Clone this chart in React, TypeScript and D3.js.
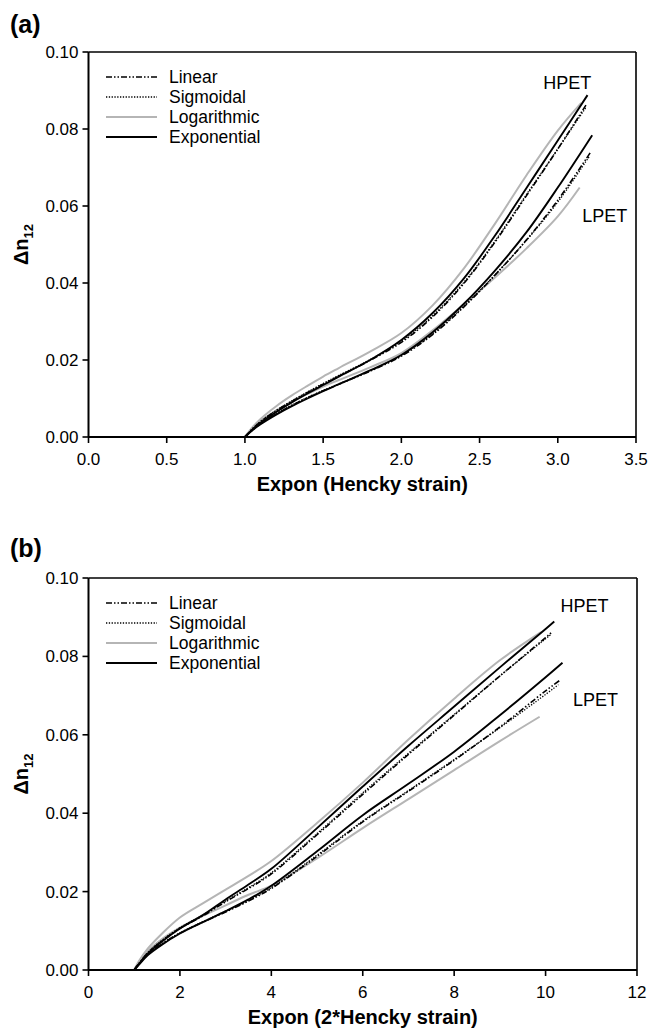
import React from "react";
import * as d3 from "d3";

// ---------- data ----------
// Panel (a): x = Expon(Hencky strain)
const hpetExpAx = [1, 1.05, 1.1, 1.2, 1.3, 1.4, 1.5, 1.6, 1.8, 2.0, 2.2, 2.4, 2.6, 2.8, 3.0, 3.19];
const hpetExpAy = [0, 0.0020, 0.0037, 0.0065, 0.0090, 0.0113, 0.0135, 0.0157, 0.0200, 0.0252, 0.0322, 0.0412, 0.0524, 0.0647, 0.0770, 0.0888];
const hpetLinAx = [1, 1.05, 1.1, 1.2, 1.3, 1.4, 1.5, 1.6, 1.8, 2.0, 2.2, 2.4, 2.6, 2.8, 3.0, 3.18];
const hpetLinAy = [0, 0.0022, 0.0040, 0.0068, 0.0093, 0.0116, 0.0137, 0.0158, 0.0199, 0.0246, 0.0312, 0.0399, 0.0507, 0.0627, 0.0748, 0.0862];
const hpetSigAx = [1, 1.05, 1.1, 1.2, 1.3, 1.4, 1.5, 1.6, 1.8, 2.0, 2.2, 2.4, 2.6, 2.8, 3.0, 3.18];
const hpetSigAy = [0, 0.0022, 0.0041, 0.0069, 0.0094, 0.0117, 0.0139, 0.0160, 0.0201, 0.0249, 0.0315, 0.0402, 0.0510, 0.0630, 0.0748, 0.0856];
const hpetLogAx = [1, 1.05, 1.1, 1.2, 1.3, 1.4, 1.5, 1.6, 1.8, 2.0, 2.2, 2.4, 2.6, 2.8, 3.0, 3.15];
const hpetLogAy = [0, 0.0026, 0.0047, 0.0080, 0.0108, 0.0133, 0.0157, 0.0179, 0.0222, 0.0270, 0.0342, 0.0438, 0.0555, 0.0680, 0.0796, 0.0868];

const lpetExpAx = [1, 1.05, 1.1, 1.2, 1.3, 1.4, 1.5, 1.6, 1.8, 2.0, 2.2, 2.4, 2.6, 2.8, 3.0, 3.22];
const lpetExpAy = [0, 0.0018, 0.0033, 0.0058, 0.0080, 0.0100, 0.0119, 0.0137, 0.0173, 0.0213, 0.0272, 0.0346, 0.0433, 0.0532, 0.0648, 0.0784];
const lpetLinAx = [1, 1.05, 1.1, 1.2, 1.3, 1.4, 1.5, 1.6, 1.8, 2.0, 2.2, 2.4, 2.6, 2.8, 3.0, 3.21];
const lpetLinAy = [0, 0.0019, 0.0035, 0.0060, 0.0082, 0.0102, 0.0120, 0.0137, 0.0171, 0.0210, 0.0266, 0.0338, 0.0421, 0.0512, 0.0615, 0.0740];
const lpetSigAx = [1, 1.05, 1.1, 1.2, 1.3, 1.4, 1.5, 1.6, 1.8, 2.0, 2.2, 2.4, 2.6, 2.8, 3.0, 3.2];
const lpetSigAy = [0, 0.0019, 0.0036, 0.0061, 0.0083, 0.0103, 0.0121, 0.0138, 0.0172, 0.0212, 0.0268, 0.0340, 0.0422, 0.0511, 0.0610, 0.0728];
const lpetLogAx = [1, 1.05, 1.1, 1.2, 1.3, 1.4, 1.5, 1.6, 1.8, 2.0, 2.2, 2.4, 2.6, 2.8, 3.0, 3.14];
const lpetLogAy = [0, 0.0023, 0.0041, 0.0069, 0.0092, 0.0112, 0.0131, 0.0148, 0.0181, 0.0218, 0.0277, 0.0345, 0.0415, 0.0490, 0.0573, 0.0648];

// Panel (b): x = Expon(2*Hencky strain)
const hpetExpBx = [1, 1.1, 1.3, 1.6, 2, 2.5, 3, 3.5, 4, 5, 6, 7, 8, 9, 10, 10.19];
const hpetExpBy = [0, 0.0015, 0.0042, 0.0072, 0.0106, 0.0140, 0.0180, 0.0218, 0.0258, 0.0362, 0.0468, 0.0572, 0.0672, 0.0772, 0.0870, 0.0889];
const hpetLinBx = [1, 1.1, 1.3, 1.6, 2, 2.5, 3, 3.5, 4, 5, 6, 7, 8, 9, 10, 10.14];
const hpetLinBy = [0, 0.0016, 0.0044, 0.0074, 0.0106, 0.0138, 0.0174, 0.0208, 0.0245, 0.0345, 0.0448, 0.0550, 0.0650, 0.0750, 0.0848, 0.0862];
const hpetSigBx = [1, 1.1, 1.3, 1.6, 2, 2.5, 3, 3.5, 4, 5, 6, 7, 8, 9, 10, 10.12];
const hpetSigBy = [0, 0.0016, 0.0045, 0.0075, 0.0108, 0.0140, 0.0176, 0.0210, 0.0248, 0.0348, 0.0452, 0.0553, 0.0652, 0.0750, 0.0845, 0.0856];
const hpetLogBx = [1, 1.1, 1.3, 1.6, 2, 2.5, 3, 3.5, 4, 5, 6, 7, 8, 9, 9.9];
const hpetLogBy = [0, 0.0022, 0.0055, 0.0092, 0.0134, 0.0170, 0.0205, 0.0240, 0.0278, 0.0375, 0.0478, 0.0588, 0.0692, 0.0790, 0.0862];

const lpetExpBx = [1, 1.1, 1.3, 1.6, 2, 2.5, 3, 3.5, 4, 5, 6, 7, 8, 9, 10, 10.37];
const lpetExpBy = [0, 0.0013, 0.0038, 0.0064, 0.0093, 0.0122, 0.0150, 0.0180, 0.0215, 0.0303, 0.0395, 0.0475, 0.0557, 0.0650, 0.0747, 0.0784];
const lpetLinBx = [1, 1.1, 1.3, 1.6, 2, 2.5, 3, 3.5, 4, 5, 6, 7, 8, 9, 10, 10.3];
const lpetLinBy = [0, 0.0014, 0.0040, 0.0066, 0.0094, 0.0122, 0.0148, 0.0176, 0.0208, 0.0290, 0.0378, 0.0456, 0.0535, 0.0620, 0.0712, 0.0738];
const lpetSigBx = [1, 1.1, 1.3, 1.6, 2, 2.5, 3, 3.5, 4, 5, 6, 7, 8, 9, 10, 10.28];
const lpetSigBy = [0, 0.0014, 0.0040, 0.0067, 0.0095, 0.0123, 0.0150, 0.0178, 0.0210, 0.0293, 0.0380, 0.0458, 0.0537, 0.0618, 0.0703, 0.0728];
const lpetLogBx = [1, 1.1, 1.3, 1.6, 2, 2.5, 3, 3.5, 4, 5, 6, 7, 8, 9, 9.87];
const lpetLogBy = [0, 0.0018, 0.0048, 0.0078, 0.0108, 0.0138, 0.0165, 0.0192, 0.0215, 0.0285, 0.0362, 0.0436, 0.0510, 0.0584, 0.0646];

const legendNames = ["Linear", "Sigmoidal", "Logarithmic", "Exponential"];
const yTicks = [0, 0.02, 0.04, 0.06, 0.08, 0.1];
const xTicksA = [0, 0.5, 1.0, 1.5, 2.0, 2.5, 3.0, 3.5];
const xTicksB = [0, 2, 4, 6, 8, 10, 12];
const materialLabels = ["HPET", "LPET"];
const labelPosA = [[3.06, 0.0904], [3.3, 0.0558]];
const labelPosB = [[10.85, 0.0913], [11.09, 0.0673]];

// ---------- styles ----------
const FONT = "'Liberation Sans', Arial, Helvetica, sans-serif";
const GRAY = "#b5b5b5";
const styleFor: Record<string, any> = {
  Linear: { stroke: "#000", width: 1.6, dash: "6,2,1.5,2,1.5,2" },
  Sigmoidal: { stroke: "#000", width: 1.3, dash: "1.3,1.5" },
  Logarithmic: { stroke: GRAY, width: 2, dash: null },
  Exponential: { stroke: "#000", width: 1.9, dash: null },
};

function zip(xs: number[], ys: number[]) {
  return xs.map((x, i) => [x, ys[i]] as [number, number]);
}

const seriesA = [
  { model: "Logarithmic", pts: zip(hpetLogAx, hpetLogAy) },
  { model: "Logarithmic", pts: zip(lpetLogAx, lpetLogAy) },
  { model: "Sigmoidal", pts: zip(hpetSigAx, hpetSigAy) },
  { model: "Sigmoidal", pts: zip(lpetSigAx, lpetSigAy) },
  { model: "Linear", pts: zip(hpetLinAx, hpetLinAy) },
  { model: "Linear", pts: zip(lpetLinAx, lpetLinAy) },
  { model: "Exponential", pts: zip(hpetExpAx, hpetExpAy) },
  { model: "Exponential", pts: zip(lpetExpAx, lpetExpAy) },
];
const seriesB = [
  { model: "Logarithmic", pts: zip(hpetLogBx, hpetLogBy) },
  { model: "Logarithmic", pts: zip(lpetLogBx, lpetLogBy) },
  { model: "Sigmoidal", pts: zip(hpetSigBx, hpetSigBy) },
  { model: "Sigmoidal", pts: zip(lpetSigBx, lpetSigBy) },
  { model: "Linear", pts: zip(hpetLinBx, hpetLinBy) },
  { model: "Linear", pts: zip(lpetLinBx, lpetLinBy) },
  { model: "Exponential", pts: zip(hpetExpBx, hpetExpBy) },
  { model: "Exponential", pts: zip(lpetExpBx, lpetExpBy) },
];

type PanelProps = {
  left: number; right: number; top: number; bottom: number;
  xMax: number; xTicks: number[]; xFmt: (v: number) => string;
  xTitle: string; letter: string; letterY: number;
  series: { model: string; pts: [number, number][] }[];
  labelPos: number[][];
};

function Panel(p: PanelProps) {
  const x = d3.scaleLinear().domain([0, p.xMax]).range([p.left, p.right]);
  const y = d3.scaleLinear().domain([0, 0.1]).range([p.bottom, p.top]);
  const line = d3.line<[number, number]>().x((d) => x(d[0])).y((d) => y(d[1])).curve(d3.curveCatmullRom.alpha(0.5));
  const yFmt = d3.format(".2f");
  const midY = (p.top + p.bottom) / 2;
  const midX = (p.left + p.right) / 2;
  return (
    <g>
      <text x={10} y={p.letterY} fontFamily={FONT} fontWeight="bold" fontSize={25}>{p.letter}</text>
      {/* curves */}
      {p.series.map((s, i) => {
        const st = styleFor[s.model];
        return (
          <path key={i} d={line(s.pts) || ""} fill="none" stroke={st.stroke} strokeWidth={st.width}
            strokeDasharray={st.dash || undefined} strokeLinejoin="round" />
        );
      })}
      {/* frame */}
      <line x1={p.left} x2={p.right} y1={p.top} y2={p.top} stroke="#000" strokeWidth={1.6} />
      <line x1={p.right} x2={p.right} y1={p.top} y2={p.bottom} stroke="#000" strokeWidth={1.6} />
      <line x1={p.left} x2={p.right} y1={p.bottom} y2={p.bottom} stroke="#000" strokeWidth={2} />
      <line x1={p.left} x2={p.left} y1={p.top} y2={p.bottom} stroke="#000" strokeWidth={2} />
      {/* y ticks */}
      {yTicks.map((t) => (
        <g key={"y" + t}>
          <line x1={p.left - 6} x2={p.left} y1={y(t)} y2={y(t)} stroke="#000" strokeWidth={1.6} />
          <text x={p.left - 10} y={y(t)} dy="0.35em" textAnchor="end" fontFamily={FONT} fontSize={17}>{yFmt(t)}</text>
        </g>
      ))}
      {/* x ticks */}
      {p.xTicks.map((t) => (
        <g key={"x" + t}>
          <line x1={x(t)} x2={x(t)} y1={p.bottom} y2={p.bottom + 6} stroke="#000" strokeWidth={1.6} />
          <text x={x(t)} y={p.bottom + 28} textAnchor="middle" fontFamily={FONT} fontSize={17}>{p.xFmt(t)}</text>
        </g>
      ))}
      <text x={midX} y={p.bottom + 54} textAnchor="middle" fontFamily={FONT} fontWeight="bold" fontSize={20}>{p.xTitle}</text>
      <text transform={`translate(28,${midY}) rotate(-90)`} textAnchor="middle" fontFamily={FONT} fontWeight="bold" fontSize={20}>
        Δn<tspan fontSize={13} dy="5">12</tspan>
      </text>
      {/* legend */}
      {legendNames.map((n, i) => {
        const st = styleFor[n];
        const ly = p.top + 25 + i * 20;
        return (
          <g key={n}>
            <line x1={106} x2={157} y1={ly} y2={ly} stroke={st.stroke} strokeWidth={st.width}
              strokeDasharray={st.dash || undefined} />
            <text x={169} y={ly} dy="0.35em" fontFamily={FONT} fontSize={17.5}>{n}</text>
          </g>
        );
      })}
      {/* material labels */}
      {materialLabels.map((m, i) => (
        <text key={m} x={x(p.labelPos[i][0])} y={y(p.labelPos[i][1])} textAnchor="middle" fontFamily={FONT} fontSize={18}>{m}</text>
      ))}
    </g>
  );
}

export default function App() {
  return (
    <svg width={649} height={1032} style={{ position: "absolute", left: 0, top: 0, background: "#fff" }}>
      <rect x={0} y={0} width={649} height={1032} fill="#fff" />
      <Panel left={88.5} right={636} top={52} bottom={437} xMax={3.5} xTicks={xTicksA}
        xFmt={d3.format(".1f")} xTitle="Expon (Hencky strain)" letter="(a)" letterY={33}
        series={seriesA as any} labelPos={labelPosA} />
      <Panel left={88.5} right={637} top={578} bottom={970} xMax={12} xTicks={xTicksB}
        xFmt={d3.format("d")} xTitle="Expon (2*Hencky strain)" letter="(b)" letterY={557}
        series={seriesB as any} labelPos={labelPosB} />
    </svg>
  );
}
